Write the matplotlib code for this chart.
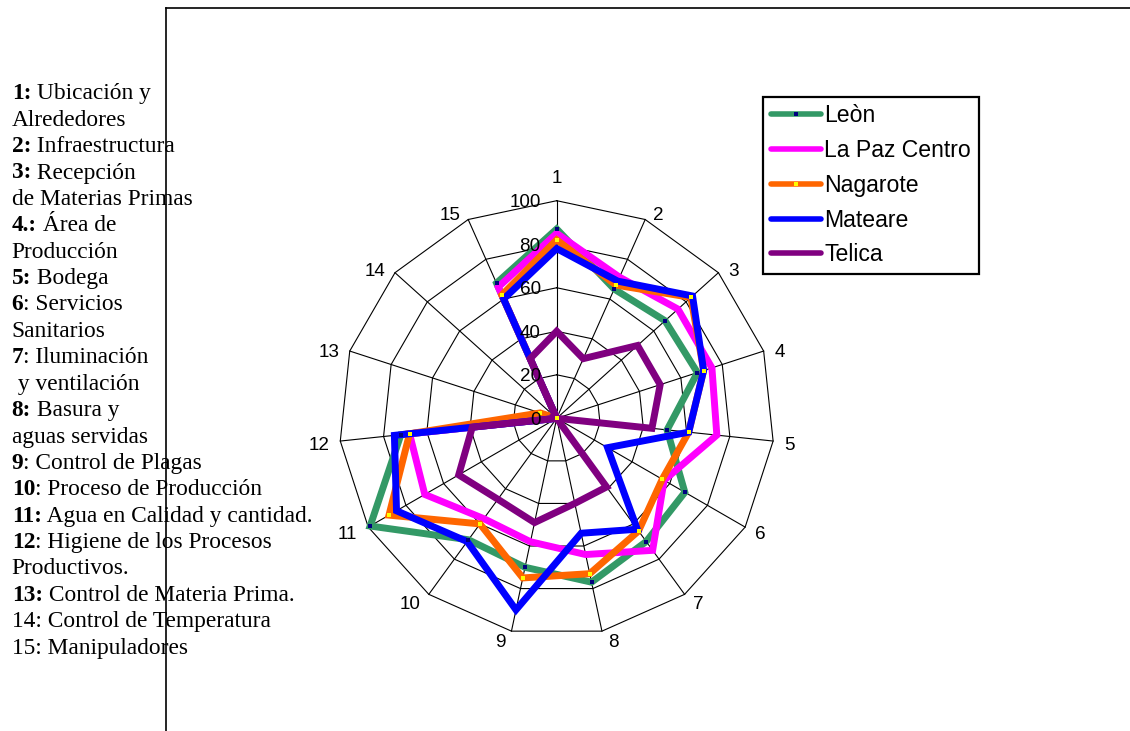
import numpy as np
import matplotlib
matplotlib.use("Agg")
import matplotlib.pyplot as plt
from matplotlib.lines import Line2D

# Radar categories (numbered criteria) and scores per municipality
categories = [str(i) for i in range(1, 16)]
leon = [87, 65, 67, 68, 51, 68, 70, 77, 70, 69, 99, 72, 0, 0, 68]
la_paz_centro = [85, 71, 75, 75, 74, 57, 75, 64, 58, 57, 70, 68, 0, 0, 66]
nagarote = [82, 67, 83, 71, 61, 56, 64, 73, 75, 60, 89, 68, 8, 0, 62]
mateare = [78, 69, 84, 71, 61, 27, 63, 54, 90, 70, 85, 75, 0, 0, 60]
telica = [40, 30, 50, 50, 44, 0, 39, 40, 49, 46, 52, 39, 0, 0, 30]

series_names = ["Leòn", "La Paz Centro", "Nagarote", "Mateare", "Telica"]
series_values = [leon, la_paz_centro, nagarote, mateare, telica]
series_colors = ["#339966", "#FF00FF", "#FF6600", "#0000FF", "#800080"]
marker_colors = ["#000080", None, "#FFFF00", None, None]

ring_values = [0, 20, 40, 60, 80, 100]

# Key of the criteria: (bold part, regular part) per line
key_lines = [
    ("1:", " Ubicación y"),
    ("", "Alrededores"),
    ("2:", " Infraestructura"),
    ("3:", " Recepción"),
    ("", "de Materias Primas"),
    ("4.:", " Área de"),
    ("", "Producción"),
    ("5:", " Bodega"),
    ("6", ": Servicios"),
    ("", "Sanitarios"),
    ("7", ": Iluminación"),
    ("", " y ventilación"),
    ("8:", " Basura y"),
    ("", "aguas servidas"),
    ("9", ": Control de Plagas"),
    ("10", ": Proceso de Producción"),
    ("11:", " Agua en Calidad y cantidad."),
    ("12", ": Higiene de los Procesos"),
    ("", "Productivos."),
    ("13:", " Control de Materia Prima."),
    ("", "14: Control de Temperatura"),
    ("", "15: Manipuladores"),
]

W, H = 1130, 731
fig = plt.figure(figsize=(W / 100, H / 100), dpi=100)
fig.patch.set_facecolor("white")

SANS = "Liberation Sans"
SERIF = "Liberation Serif"

# polar axes: centre and radius of the 100 ring in pixels
cx, cy, R = 556.7, 418.3, 217.6
ax = fig.add_axes([(cx - R) / W, (H - cy - R) / H, 2 * R / W, 2 * R / H],
                  projection="polar")
ax.set_theta_zero_location("N")
ax.set_theta_direction(-1)
ax.set_ylim(0, 100)
ax.grid(False)
ax.set_xticks([])
ax.set_yticks([])
ax.spines["polar"].set_visible(False)
ax.patch.set_visible(False)

n = len(categories)
theta = np.arange(n) * 2 * np.pi / n
closed = np.append(theta, theta[0])

# polygonal grid
for v in ring_values[1:]:
    ax.plot(closed, [v] * (n + 1), color="black", lw=0.8, zorder=1, clip_on=False)
for t in theta:
    ax.plot([t, t], [0, ring_values[-1]], color="black", lw=0.8, zorder=1, clip_on=False)

# series outlines
for i, (vals, col) in enumerate(zip(series_values, series_colors)):
    ax.fill(theta, vals, facecolor="none", edgecolor=col, lw=5,
            joinstyle="miter", zorder=2 + i, clip_on=False)
for vals, mcol in zip(series_values, marker_colors):
    if mcol:
        ax.plot(theta, vals, ls="none", marker="s", ms=3.2, mfc=mcol, mec=mcol,
                mew=0, zorder=10, clip_on=False)

# radial scale labels
for v in ring_values:
    ax.annotate(str(v), xy=(0, v), xytext=(-16, -6.7), textcoords="offset pixels",
                ha="right", va="baseline", fontsize=13.6, family=SANS, zorder=20)

# category labels around the outer ring
digit_w = 10.4
for t, lab in zip(theta, categories):
    s, c = np.sin(t), np.cos(t)
    half_w = len(lab) * digit_w / 2
    if abs(s) < 1e-6:
        dx, dy = 0.0, -24.0 if c > 0 else 24.0
    else:
        dx = np.sign(s) * (half_w + 5 + 6 * abs(s))
        dy = -c * 8 + 1.5
    ax.annotate(lab, xy=(t, ring_values[-1]), xytext=(dx, -dy - 6.7),
                textcoords="offset pixels", ha="center", va="baseline",
                fontsize=13.6, family=SANS, zorder=20, annotation_clip=False)

# legend
handles = []
for name, col, mcol in zip(series_names, series_colors, marker_colors):
    if mcol:
        h = Line2D([], [], color=col, lw=4, solid_capstyle="round", marker="s",
                   ms=3.2, mfc=mcol, mec=mcol, mew=0)
    else:
        h = Line2D([], [], color=col, lw=4, solid_capstyle="round")
    handles.append(h)
leg = fig.legend(handles, series_names, loc="upper left",
                 bbox_to_anchor=(763.3 / W, 1 - 96.7 / H), bbox_transform=fig.transFigure,
                 borderaxespad=0, frameon=True, fancybox=False, shadow=False,
                 framealpha=1, edgecolor="black", numpoints=1,
                 prop={"family": SANS, "size": 16.6}, handlelength=2.17,
                 handletextpad=0.15, labelspacing=0.51, borderpad=0.33)
leg.get_frame().set_linewidth(1.6)

# frame lines
fig.add_artist(Line2D([166 / W, 166 / W], [0, 1 - 8 / H], transform=fig.transFigure,
                      color="black", lw=1.2))
fig.add_artist(Line2D([166 / W, 1], [1 - 8 / H, 1 - 8 / H], transform=fig.transFigure,
                      color="black", lw=1.2))

# criteria key on the left
renderer = fig.canvas.get_renderer()
x0 = 11.7
fs = 16.8
for i, (bold, rest) in enumerate(key_lines):
    yb = 1 - (99.3 + 26.4 * i) / H
    x = x0
    if bold:
        tb = fig.text(x / W, yb, bold, ha="left", va="baseline", fontsize=fs,
                      family=SERIF, fontweight="bold")
        x = tb.get_window_extent(renderer).x1
    fig.text(x / W, yb, rest, ha="left", va="baseline", fontsize=fs, family=SERIF)

fig.savefig("out.png", dpi=100)
